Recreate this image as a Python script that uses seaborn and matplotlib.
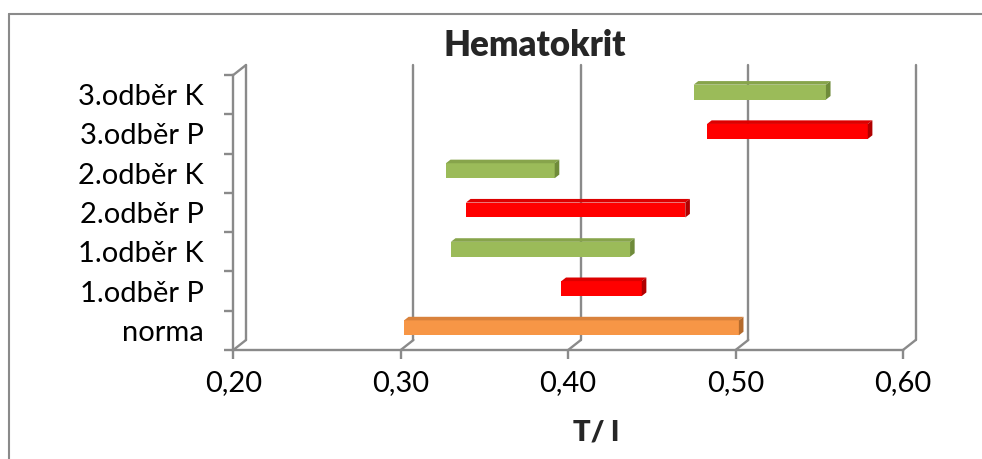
import numpy as np
import pandas as pd
import seaborn as sns
import matplotlib
matplotlib.use("Agg")
import matplotlib.pyplot as plt
from matplotlib.patches import Polygon
from matplotlib.transforms import ScaledTranslation, IdentityTransform

# Hematocrit ranges (l/l) for the reference interval and each sampling
categories = ["norma", "1.odběr P", "1.odběr K", "2.odběr P",
              "2.odběr K", "3.odběr P", "3.odběr K"]
range_low = [0.300, 0.394, 0.328, 0.337, 0.325, 0.481, 0.473]
range_high = [0.500, 0.442, 0.435, 0.468, 0.390, 0.577, 0.552]
x_ticks = [0.20, 0.30, 0.40, 0.50, 0.60]
x_tick_labels = ["0,20", "0,30", "0,40", "0,50", "0,60"]

# face colours: front, top, side
ORANGE = ("#F79646", "#D9823C", "#B46A2C")
RED = ("#FF0000", "#DC0000", "#B00000")
GREEN = ("#9BBB59", "#87A44B", "#6F8B3A")
bar_colors = {"norma": ORANGE,
              "1.odběr P": RED, "2.odběr P": RED, "3.odběr P": RED,
              "1.odběr K": GREEN, "2.odběr K": GREEN, "3.odběr K": GREEN}

GRID = "#8A8A8A"
DPI = 100

sns.set_theme(style="white")
plt.rcParams["font.family"] = ["Lato", "DejaVu Sans"]

df = pd.DataFrame({"vzorek": categories,
                   "od": range_low,
                   "do": range_high})
df["rozsah"] = df["do"] - df["od"]

fig = plt.figure(figsize=(9.82, 4.59), dpi=DPI)
W, H = 982, 459
left_px, right_px, bottom_px, top_px = 233.3, 903.0, 350.0, 75.0
ax = fig.add_axes([left_px / W, 1 - bottom_px / H,
                   (right_px - left_px) / W, (bottom_px - top_px) / H])

order = categories[::-1]          # top row first on a horizontal barplot
palette = {c: bar_colors[c][0] for c in categories}
sns.barplot(data=df, x="rozsah", y="vzorek", hue="vzorek", order=order,
            hue_order=order, palette=palette, width=0.38, orient="h",
            legend=False, saturation=1, linewidth=0, ax=ax)

ax.set_xlim(0.2, 0.6)
ax.set_ylim(len(order) - 0.5, -0.5)


def offset_tr(dx, dy):
    return ax.transData + ScaledTranslation(dx / DPI, dy / DPI, fig.dpi_scale_trans)


# oblique depth of the walls and of the bars (pixels)
WALL = (12.7, 10.0)
BAR_FRONT = (3.3, 2.5)
BAR_DEPTH = (4.6, 3.6)

ylo, yhi = len(order) - 0.5, -0.5

# back-wall grid lines and the floor diagonals at every x tick
for v in x_ticks:
    ax.plot([v, v], [ylo, yhi], color=GRID, lw=1.7, clip_on=False,
            transform=offset_tr(*WALL), zorder=0.5)
    p = ax.transData.transform((v, ylo))
    ax.add_line(plt.Line2D([p[0], p[0] + WALL[0]], [p[1], p[1] + WALL[1]],
                           color=GRID, lw=1.7, transform=IdentityTransform(),
                           clip_on=False, zorder=0.5))
# top edge of the side wall
p = ax.transData.transform((0.2, yhi))
ax.add_line(plt.Line2D([p[0], p[0] + WALL[0]], [p[1], p[1] + WALL[1]],
                       color=GRID, lw=1.7, transform=IdentityTransform(),
                       clip_on=False, zorder=0.5))

# move each bar to its starting value and add the 3D faces
for patch in ax.patches:
    yc = patch.get_y() + patch.get_height() / 2
    cat = order[int(round(yc))]
    row = df.loc[df["vzorek"] == cat].iloc[0]
    patch.set_x(row["od"])
    patch.set_width(row["rozsah"])
    patch.set_transform(offset_tr(*BAR_FRONT))
    patch.set_clip_on(False)
    patch.set_zorder(3)
    front, top, side = bar_colors[cat]
    y_top = patch.get_y()
    y_bot = patch.get_y() + patch.get_height()
    (x0, yt), (x1, yb) = ax.transData.transform([(row["od"], y_top),
                                                  (row["do"], y_bot)])
    fx, fy = BAR_FRONT
    dx, dy = BAR_DEPTH
    x0 += fx; x1 += fx; yt += fy; yb += fy
    top_face = Polygon([(x0, yt), (x1, yt), (x1 + dx, yt + dy), (x0 + dx, yt + dy)],
                       closed=True, facecolor=top, edgecolor="none",
                       transform=IdentityTransform(), clip_on=False, zorder=3)
    side_face = Polygon([(x1, yt), (x1 + dx, yt + dy), (x1 + dx, yb + dy), (x1, yb)],
                        closed=True, facecolor=side, edgecolor="none",
                        transform=IdentityTransform(), clip_on=False, zorder=3)
    ax.add_patch(top_face)
    ax.add_patch(side_face)

# axes frame
for s in ("top", "right"):
    ax.spines[s].set_visible(False)
for s in ("left", "bottom"):
    ax.spines[s].set_color(GRID)
    ax.spines[s].set_linewidth(1.7)

ax.set_xticks(x_ticks)
ax.set_xticklabels(x_tick_labels, fontsize=21, color="black")
ax.tick_params(axis="x", which="major", direction="out", length=6.5,
               width=1.7, color=GRID, pad=8, bottom=True)

ax.set_yticks(np.arange(-0.5, len(order), 1.0))
ax.set_yticklabels([])
ax.set_yticks(np.arange(len(order)), minor=True)
ax.set_yticklabels(order, minor=True, fontsize=21, color="black")
ax.tick_params(axis="y", which="major", direction="out", length=6.5,
               width=1.7, color=GRID, left=True)
ax.tick_params(axis="y", which="minor", length=0, pad=21, left=True)

ax.set_xlabel("")
ax.set_ylabel("")
ax.grid(False)

fig.text(535 / W, 1 - 45 / H, "Hematokrit", ha="center", va="center",
         fontsize=25, fontweight="heavy")
fig.text(596 / W, 1 - 432 / H, "T/ l", ha="center", va="center",
         fontsize=21, fontweight="heavy")

# chart area border
fig.add_artist(plt.Line2D([9 / W, 9 / W], [0, 1 - 14 / H], color=GRID, lw=1.5,
                          transform=fig.transFigure))
fig.add_artist(plt.Line2D([9 / W, 1], [1 - 14 / H, 1 - 14 / H], color=GRID, lw=1.5,
                          transform=fig.transFigure))

fig.savefig("out.png", dpi=DPI)
